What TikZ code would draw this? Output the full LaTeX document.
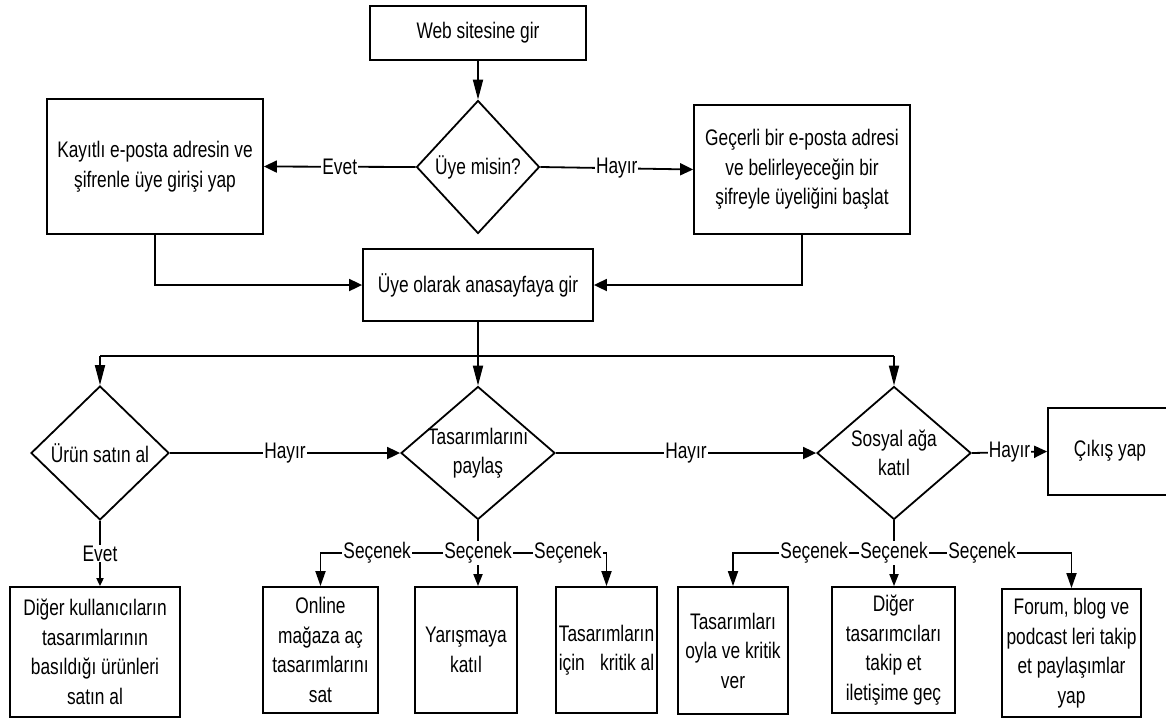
\documentclass[tikz,border=0pt]{standalone}
\usepackage{fontspec}
\setmainfont{Liberation Sans}[FakeStretch=0.77]
\usetikzlibrary{arrows.meta,shapes.geometric}
\begin{document}
\begin{tikzpicture}[x=1pt,y=-1pt,line width=1.8pt,
  every node/.style={font=\fontsize{22.5}{29.5}\selectfont},
  box/.style={draw, align=center, inner sep=0pt},
  dia/.style={draw, diamond, inner sep=0pt},
  dtext/.style={align=center, inner sep=0pt},
  lbl/.style={fill=white, inner sep=1pt},
  arrV/.style={-{Triangle[length=20pt,width=10pt]}},
  arrH/.style={-{Triangle[length=13pt,width=12pt]}},
  arrS/.style={-{Triangle[length=15pt,width=10pt]}},
  arrM/.style={-{Triangle[length=12pt,width=9pt]}},
  arrT/.style={-{Triangle[length=8pt,width=7pt]}}]
\useasboundingbox (0,0) rectangle (1166,718);

% top part
\node[box, minimum width=216pt, minimum height=54pt] (web) at (478,33) {Web sitesine gir};
\node[dia, minimum width=123pt, minimum height=133pt] (q1) at (478,167) {};
\node[dtext] (q1t) at (q1.center) {Üye misin?};
\node[box, minimum width=216pt, minimum height=135pt] (kay) at (155,166.5) {Kayıtlı e-posta adresin ve\\şifrenle üye girişi yap};
\node[box, minimum width=216pt, minimum height=129pt] (gec) at (802,169.5) {Geçerli bir e-posta adresi\\ve belirleyeceğin bir\\şifreyle üyeliğini başlat};
\node[box, minimum width=230pt, minimum height=72pt] (uye) at (478,285) {Üye olarak anasayfaya gir};

% decision row
\node[dia, minimum width=138pt, minimum height=134pt] (q2) at (100,453) {};
\node[dtext] (q2t) at (q2.center) {Ürün satın al};
\node[dia, minimum width=154pt, minimum height=133pt] (q3) at (478,453) {};
\node[dtext] (q3t) at (q3.center) {Tasarımlarını\\paylaş};
\node[dia, minimum width=154pt, minimum height=133pt] (q4) at (894,453) {};
\node[dtext] (q4t) at (q4.center) {Sosyal ağa\\katıl};
\node[box, minimum width=124pt, minimum height=87pt] (cik) at (1110,451.5) {};
\node[dtext] (cikt) at (1110,451) {Çıkış yap};

% bottom boxes
\node[box, minimum width=170pt, minimum height=130pt] (b1) at (95,652) {Diğer kullanıcıların\\tasarımlarının\\basıldığı ürünleri\\satın al};
\node[box, minimum width=115pt, minimum height=126pt] (b2) at (320.5,650) {Online\\mağaza aç\\tasarımlarını\\sat};
\node[box, minimum width=102pt, minimum height=126pt] (b3) at (466,650) {Yarışmaya\\katıl};
\node[box, minimum width=101pt, minimum height=126pt] (b4) at (606.5,650) {\begin{tabular}{@{}c@{}}Tasarımların\\için\hfill kritik al\end{tabular}};
\node[box, minimum width=110pt, minimum height=127pt] (b5) at (733,650.5) {Tasarımları\\oyla ve kritik\\ver};
\node[box, minimum width=123pt, minimum height=126pt] (b6) at (893.5,650) {Diğer\\tasarımcıları\\takip et\\iletişime geç};
\node[box, minimum width=139pt, minimum height=128pt] (b7) at (1071.5,653) {Forum, blog ve\\podcast leri takip\\et paylaşımlar\\yap};

% coordinates
\coordinate (bus) at (478,356);
\coordinate (busL) at (100,356);
\coordinate (busR) at (894,356);
\coordinate (s1) at (478,553);
\coordinate (s2) at (894,553);

% top connectors
\draw[arrV] (web.south) -- (q1.north);
\draw[arrH] (q1.west) -- (kay.east) node[lbl, midway] {Evet};
\draw[arrH] (q1.east) -- (gec.west) node[lbl, midway] {Hayır};
\draw[arrH] (kay.south) |- (uye.west);
\draw[arrH] (gec.south) |- (uye.east);
\draw (uye.south) -- (bus);
\draw (busL) -- (busR);
\draw[arrV] (busL) -- (q2.north);
\draw[arrV] (bus) -- (q3.north);
\draw[arrV] (busR) -- (q4.north);

% decision row connectors
\draw[arrH] (q2.east) -- (q3.west) node[lbl, midway] {Hayır};
\draw[arrH] (q3.east) -- (q4.west) node[lbl, midway] {Hayır};
\draw[arrH] (q4.east) -- (cik.west) node[lbl, midway] {Hayır};
\draw[arrT] (q2.south) -- (q2.south |- b1.north) node[lbl, midway] {Evet};

% options of q3
\draw (q3.south) -- (s1);
\draw[arrS] (s1) -| (b2.north) node[lbl, pos=0.32] {Seçenek};
\draw[arrS] (s1) -| (b4.north) node[lbl, pos=0.35] {Seçenek};
\draw[arrM] (s1) -- (s1 |- b3.north) node[lbl, pos=0] {Seçenek};

% options of q4
\draw (q4.south) -- (s2);
\draw[arrS] (s2) -| (b5.north) node[lbl, pos=0.248] {Seçenek};
\draw[arrS] (s2) -| (b7.north) node[lbl, pos=0.248] {Seçenek};
\draw[arrM] (s2) -- (s2 |- b6.north) node[lbl, pos=0] {Seçenek};
\end{tikzpicture}
\end{document}
